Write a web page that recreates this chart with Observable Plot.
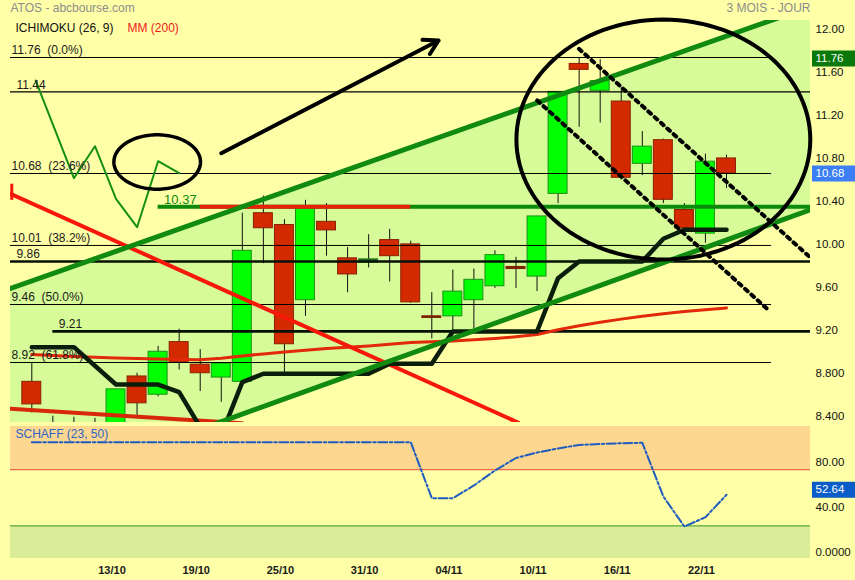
<!DOCTYPE html>
<html><head><meta charset="utf-8">
<script src="https://cdn.jsdelivr.net/npm/d3@7"></script>
<script src="https://cdn.jsdelivr.net/npm/@observablehq/plot@0.6"></script>
<style>
html,body{margin:0;padding:0;background:#ffffa8;}
#chart{width:855px;height:580px;position:relative;overflow:hidden;background:#ffffa8;}
#chart svg{display:block;overflow:visible;}
#chart svg text{white-space:pre;}
</style></head><body><div id="chart"></div>
<script>
// ---------- DATA ----------
const days = ["07/10","10/10","11/10","12/10","13/10","14/10","17/10","18/10","19/10","20/10","21/10","24/10","25/10","26/10","27/10","28/10","31/10","01/11","02/11","03/11","04/11","07/11","08/11","09/11","10/11","11/11","14/11","15/11","16/11","17/11","18/11","21/11","22/11","23/11"];
const open  = [8.74,8.32,8.05,8.20,8.30,8.79,8.62,9.11,8.90,8.78,8.74,10.31,10.20,9.50,10.23,9.89,9.85,10.06,10.02,9.35,9.35,9.50,9.63,9.81,9.72,10.49,11.70,11.45,11.35,10.77,10.99,10.34,10.12,10.82];
const high  = [8.92,8.42,8.41,8.40,8.67,8.82,9.07,9.23,9.04,8.92,10.31,10.47,10.25,10.43,10.40,9.99,10.11,10.16,10.05,9.57,9.78,9.79,9.96,9.90,10.28,11.44,11.76,11.74,11.48,11.07,11.00,10.40,10.86,10.85];
const low   = [8.45,7.90,7.17,7.95,8.20,8.41,8.60,8.85,8.65,8.55,8.70,9.84,8.82,9.35,9.91,9.57,9.80,9.67,9.47,9.14,9.22,9.23,9.61,9.61,9.58,10.40,11.11,11.15,10.62,10.66,10.40,10.16,10.03,10.54];
const close = [8.53,8.05,8.20,8.30,8.67,8.54,9.02,8.92,8.82,8.91,9.96,10.17,9.09,10.35,10.15,9.74,9.88,9.91,9.48,9.335,9.58,9.69,9.92,9.79,10.28,11.44,11.645,11.54,10.64,10.93,10.435,10.17,10.79,10.68];
const mm200 = [8.995,8.985,8.976,8.968,8.962,8.957,8.952,8.948,8.945,8.960,8.981,9.000,9.018,9.035,9.050,9.062,9.074,9.090,9.106,9.113,9.120,9.132,9.144,9.160,9.180,9.225,9.262,9.295,9.324,9.350,9.373,9.395,9.412,9.428];
const schaff = [99.4,99.4,99.4,99.4,99.4,99.4,99.4,99.4,99.4,99.4,99.4,99.4,99.4,99.4,99.4,99.4,99.4,99.4,99.4,49.6,49.6,60.9,74.2,85.3,90.2,93.8,96.9,97.8,98.4,98.8,51.1,24.4,32.7,52.64];

// Ichimoku (kijun) line: day index / price
const kijunX = [0,2,4,6,7,8,9,10,11,16,17,19,20,24,25,26,29,30,31,33];
const kijunP = [9.063,9.063,8.715,8.715,8.644,8.318,8.244,8.737,8.815,8.815,8.908,8.908,9.209,9.209,9.705,9.861,9.861,10.072,10.156,10.156];
// lagging (chikou) line
const chikouX = [0.18,2,3,4,5,6,7];
const chikouP = [11.546,10.636,10.934,10.444,10.180,10.794,10.683];

// Fibonacci retracement levels
const fibLevels = [11.76,10.68,10.01,9.46,8.92];
const fibLabels = ["11.76  (0.0%)","10.68  (23.6%)","10.01  (38.2%)","9.46  (50.0%)","8.92  (61.8%)"];
// other horizontal levels
const levelP = [11.44,9.86,9.21];
const levelFrom = [-1.012,-1.012,1];
const levelLabels = ["11.44","9.86","9.21"];
const resist = 10.37, resistFrom = 6, resistRedFrom = 8, resistRedTo = 18;

// trend channel (day index -> price)
const channelX  = [-1.012, 36.99];
const channelHi = [9.609, 12.235];
const channelLo = [7.663, 10.342];
// red downtrend line and lower red line
const redTrendX = [-1.012, 23.12], redTrendP = [10.491, 8.359];
const redLowX = [-1.012, 10], redLowP = [8.489, 8.354];
// dotted falling channel
const dotUpX = [25.99, 36.96], dotUpP = [11.841, 9.901];
const dotLoX = [24.01, 35.05], dotLoP = [11.360, 9.398];
// arrow
const arrowX = [9.0, 19.32], arrowP = [10.869, 11.918];
// ellipses (center index, center price, radius index, radius price)
const bigEll = [30.0, 10.996, 6.98, 1.117];
const smallEll = [5.956, 10.787, 2.057, 0.2533];

// axis ticks
const priceTicks = [12,11.6,11.2,10.8,10.4,10.0,9.6,9.2,8.8,8.4];
const priceTickLabels = ["12.00","11.60","11.20","10.80","10.40","10.00","9.60","9.20","8.800","8.400"];
const schaffTicks = [80,40,0];
const schaffTickLabels = ["80.00","40.00","0.0000"];
const xTickLabels = ["13/10","19/10","25/10","31/10","04/11","10/11","16/11","22/11"];
const lastPrice = 10.68, highPrice = 11.76, lastSchaff = 52.64;

// ---------- BUILD ----------
const xDomain = [-1.012, 36.99];
const candles = days.map((d, i) => ({i, o: open[i], h: high[i], l: low[i], c: close[i]}));
const isDoji = d => Math.abs(d.c - d.o) < 0.04;
const up = candles.filter(d => d.c > d.o && !isDoji(d));
const down = candles.filter(d => d.c <= d.o && !isDoji(d));
const dUp = candles.filter(d => isDoji(d) && d.c > d.o);
const dDown = candles.filter(d => isDoji(d) && d.c <= d.o);
const bw = 0.45;
const body = (data, fill, stroke) => Plot.rect(data, {x1: d => d.i - bw, x2: d => d.i + bw, y1: "o", y2: "c", fill, stroke, strokeWidth: 1, clip: true});
const pts = (xs, ps) => xs.map((x, k) => ({x, p: ps[k]}));
const ellipse = e => d3.range(0, 361, 3).map(a => ({x: e[0] + e[2] * Math.cos(a * Math.PI / 180), p: e[1] + e[3] * Math.sin(a * Math.PI / 180)}));
const channel = channelX.map((x, k) => ({x, hi: channelHi[k], lo: channelLo[k]}));
const fibs = fibLevels.map((p, k) => ({p, t: fibLabels[k]}));
const levels = levelP.map((p, k) => ({p, from: levelFrom[k], t: levelLabels[k]}));
const font = "'Liberation Sans', Arial, sans-serif";
const style = {background: "transparent", fontFamily: font, fontSize: "12px", overflow: "visible"};
const badgeX1 = 37.084, badgeX2 = 39.2;

const topPlot = Plot.plot({
  width: 855, height: 424, marginLeft: 10, marginRight: 45, marginTop: 20, marginBottom: 2,
  x: {domain: xDomain, axis: null},
  y: {domain: [8.3614, 12.1045], axis: null},
  style,
  marks: [
    Plot.areaY(channel, {x: "x", y1: "lo", y2: "hi", fill: "#d6fb98", clip: true}),
    Plot.ruleX(candles, {x: "i", y1: "l", y2: "h", stroke: "#111", strokeWidth: 1, clip: true}),
    body(up, "#00ff00", "#1b8f1b"),
    body(down, "#d42a00", "#8a2000"),
    body(dUp, "#1e6e1e", "#1e6e1e"),
    body(dDown, "#7a2000", "#7a2000"),
    Plot.ruleY(fibs, {y: "p", x1: -1.012, x2: 35.14, stroke: "#000", strokeWidth: 1}),
    Plot.ruleY(levels.slice(0,1), {y: "p", x1: "from", x2: 36.99, stroke: "#000", strokeWidth: 1.2}),
    Plot.ruleY(levels.slice(1), {y: "p", x1: "from", x2: 36.99, stroke: "#061006", strokeWidth: 2.6}),
    Plot.ruleY([resist], {x1: resistFrom, x2: 36.99, stroke: "#0b8a0b", strokeWidth: 4}),
    Plot.ruleY([resist], {x1: resistRedFrom, x2: resistRedTo, stroke: "#e8230a", strokeWidth: 4}),
    Plot.line(mm200.map((p, i) => ({x: i, p})), {x: "x", y: "p", stroke: "#e2290a", strokeWidth: 3, clip: true}),
    Plot.line(pts(redLowX, redLowP), {x: "x", y: "p", stroke: "#d8280a", strokeWidth: 4, clip: true}),
    Plot.line(pts(redTrendX, redTrendP), {x: "x", y: "p", stroke: "#f8180a", strokeWidth: 4, clip: true}),
    Plot.ruleX([-0.95], {y1: 10.43, y2: 10.58, stroke: "#f8180a", strokeWidth: 3}),
    Plot.line(pts(kijunX, kijunP), {x: "x", y: "p", stroke: "#0b1d0b", strokeWidth: 4.5, strokeLinejoin: "round", clip: true}),
    Plot.line(channel, {x: "x", y: "hi", stroke: "#118a11", strokeWidth: 5, clip: true}),
    Plot.line(channel, {x: "x", y: "lo", stroke: "#118a11", strokeWidth: 5, clip: true}),
    Plot.line(pts(chikouX, chikouP), {x: "x", y: "p", stroke: "#168f16", strokeWidth: 2}),
    Plot.line(pts(dotUpX, dotUpP), {x: "x", y: "p", stroke: "#000", strokeWidth: 4, strokeDasharray: "3.5,5", clip: true}),
    Plot.line(pts(dotLoX, dotLoP), {x: "x", y: "p", stroke: "#000", strokeWidth: 4, strokeDasharray: "3.5,5", clip: true}),
    Plot.line(ellipse(bigEll), {x: "x", y: "p", stroke: "#000", strokeWidth: 4}),
    Plot.line(ellipse(smallEll), {x: "x", y: "p", stroke: "#000", strokeWidth: 3.5}),
    Plot.arrow([0], {x1: () => arrowX[0], y1: () => arrowP[0], x2: () => arrowX[1], y2: () => arrowP[1], stroke: "#000", strokeWidth: 4, headLength: 6, headAngle: 60}),
    // labels
    Plot.text(fibs, {y: "p", text: "t", frameAnchor: "left", dx: 1, dy: -7, textAnchor: "start", fill: "#1a1a1a", fontSize: 12}),
    Plot.text(levels, {x: "from", y: "p", text: "t", dx: 6, dy: -7, textAnchor: "start", fill: "#1a1a1a", fontSize: 12}),
    Plot.text([resist], {x: resistFrom, y: d => d, text: d => d.toFixed(2), dx: 6, dy: -7, textAnchor: "start", fill: "#0b8a0b", fontSize: 13}),
    Plot.text(["ATOS - abcbourse.com"], {text: d => d, frameAnchor: "top-left", lineAnchor: "middle", dy: -12, textAnchor: "start", fill: "#8c8c8c", fontSize: 12}),
    Plot.text(["3 MOIS - JOUR"], {text: d => d, frameAnchor: "top-right", lineAnchor: "middle", dy: -12, textAnchor: "end", fill: "#8c8c8c", fontSize: 12}),
    Plot.text(["ICHIMOKU (26, 9)"], {text: d => d, frameAnchor: "top-left", lineAnchor: "middle", dx: 5, dy: 8, textAnchor: "start", fill: "#111", fontSize: 12}),
    Plot.text(["MM (200)"], {text: d => d, frameAnchor: "top-left", lineAnchor: "middle", dx: 117, dy: 8, textAnchor: "start", fill: "#f01818", fontSize: 12}),
    Plot.text(priceTicks, {y: d => d, text: (d, k) => priceTickLabels[k], frameAnchor: "right", dx: 5, dy: -2, textAnchor: "start", fill: "#111", fontSize: 11.5}),
    Plot.ruleY([highPrice], {x1: badgeX1, x2: badgeX2, stroke: "#0a780a", strokeWidth: 16, dy: 1}),
    Plot.text([highPrice], {y: d => d, text: d => d.toFixed(2), frameAnchor: "right", dx: 5, dy: 1, textAnchor: "start", fill: "#fff", fontSize: 11.5}),
    Plot.ruleY([lastPrice], {x1: badgeX1, x2: badgeX2, stroke: "#3c7ef3", strokeWidth: 16, dy: 0}),
    Plot.text([lastPrice], {y: d => d, text: d => d.toFixed(2), frameAnchor: "right", dx: 5, dy: 0, textAnchor: "start", fill: "#fff", fontSize: 11.5})
  ]
});

const xTicks = xTickLabels.map(t => ({i: days.indexOf(t), t}));
const botPlot = Plot.plot({
  width: 855, height: 156, marginLeft: 10, marginRight: 45, marginTop: 2, marginBottom: 22,
  x: {domain: xDomain, axis: null},
  y: {domain: [-4, 113.3], axis: null},
  style,
  marks: [
    Plot.rect([[75, 113.3]], {x1: xDomain[0], x2: xDomain[1], y1: d => d[0], y2: d => d[1], fill: "#fdd690"}),
    Plot.rect([[-4, 25]], {x1: xDomain[0], x2: xDomain[1], y1: d => d[0], y2: d => d[1], fill: "#dbec98"}),
    Plot.ruleY([75], {x1: xDomain[0], x2: xDomain[1], stroke: "#f2694a", strokeWidth: 1.2}),
    Plot.ruleY([25], {x1: xDomain[0], x2: xDomain[1], stroke: "#58ad3a", strokeWidth: 1.2}),
    Plot.line(schaff.map((v, i) => ({x: i, v})), {x: "x", y: "v", stroke: "#1f5cc0", strokeWidth: 2, strokeDasharray: "9,2.5,2.5,2.5"}),
    Plot.text(["SCHAFF (23, 50)"], {text: d => d, frameAnchor: "top-left", lineAnchor: "middle", dx: 5, dy: 8, textAnchor: "start", fill: "#2a66c6", fontSize: 12}),
    Plot.text(schaffTicks, {y: d => d, text: (d, k) => schaffTickLabels[k], frameAnchor: "right", dx: 5, dy: -1.5, textAnchor: "start", fill: "#111", fontSize: 11.5}),
    Plot.ruleY([lastSchaff], {x1: badgeX1, x2: badgeX2, stroke: "#0a5cc8", strokeWidth: 16, dy: -5}),
    Plot.text([lastSchaff], {y: d => d, text: d => d.toFixed(2), frameAnchor: "right", dx: 5, dy: -5, textAnchor: "start", fill: "#fff", fontSize: 11.5}),
    Plot.text(xTicks, {x: "i", text: "t", frameAnchor: "bottom", lineAnchor: "middle", dx: -4, dy: 12, fill: "#1a1a1a", fontSize: 11, fontWeight: "bold"})
  ]
});

const chart = document.getElementById("chart");
chart.appendChild(topPlot);
chart.appendChild(botPlot);
</script>
</body></html>
